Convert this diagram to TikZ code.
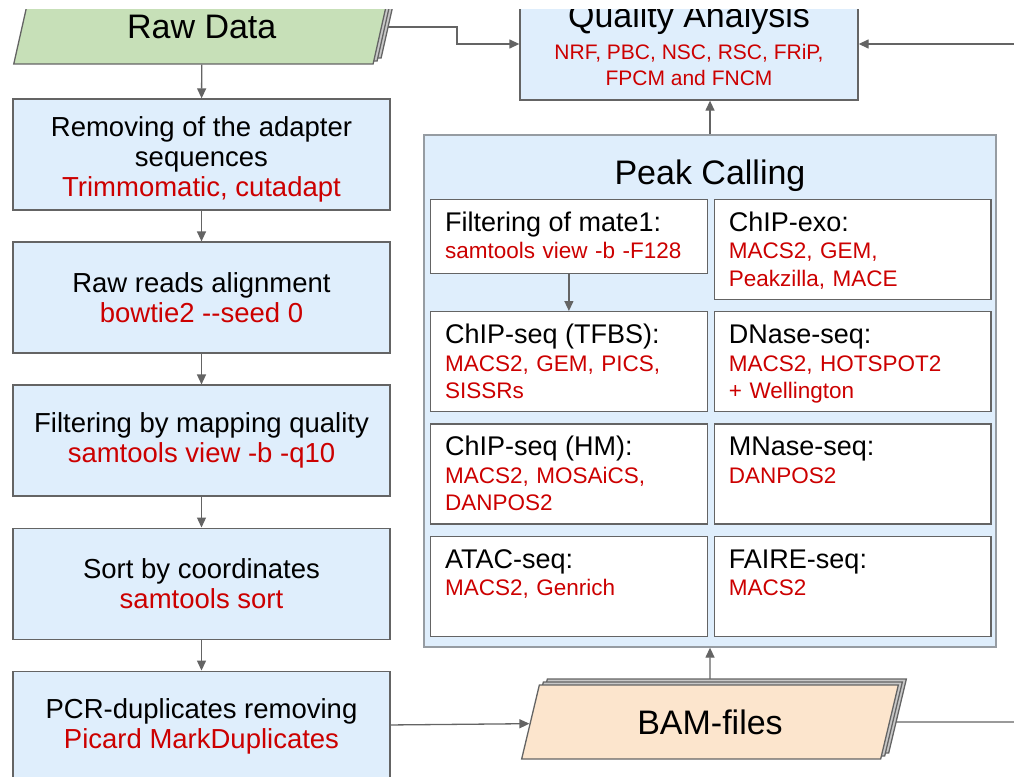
\documentclass[tikz,border=0pt]{standalone}
\usepackage{fontspec}
\setmainfont{Liberation Sans}
\usepackage{tikz}
\usetikzlibrary{arrows.meta,positioning,shapes.geometric,shadows,backgrounds}
\definecolor{linegray}{RGB}{100,100,100}
\definecolor{groupgray}{RGB}{150,156,162}
\definecolor{boxblue}{RGB}{223,238,252}
\definecolor{rawgreen}{RGB}{199,224,184}
\definecolor{bampeach}{RGB}{252,229,205}
\definecolor{toolred}{RGB}{204,0,0}
\definecolor{shadowgray}{RGB}{200,200,200}
\newcommand{\tool}[1]{\textcolor{toolred}{#1}}
\newcommand{\bigtitle}{\fontsize{34}{34}\selectfont}
\newcommand{\headfont}{\fontsize{27}{27.5}\selectfont}
\tikzset{
  stepbox/.style={rectangle, draw=linegray, line width=1.3pt, fill=boxblue,
                  minimum width=377pt, minimum height=111pt, align=center, inner sep=0pt,
                  font=\fontsize{27.5}{30}\selectfont},
  groupbox/.style={rectangle, draw=groupgray, line width=1.3pt, fill=boxblue, inner xsep=0pt},
  methodbox/.style={rectangle, draw=linegray, line width=1.3pt, fill=white,
                    text width=247.5pt, align=left, inner xsep=14.5pt, inner ysep=12.5pt,
                    text height=19.5pt, text depth=55.5pt, font=\fontsize{22.5}{27.5}\selectfont},
  datafile/.style={trapezium, trapezium left angle=76, trapezium right angle=104,
                   trapezium stretches=true, minimum width=377pt, minimum height=74pt,
                   draw=linegray, line width=1.3pt, font=\bigtitle,
                   copy shadow={shadow xshift=8pt, shadow yshift=6pt, fill=shadowgray, draw=linegray, line width=1.3pt},
                   copy shadow={shadow xshift=4pt, shadow yshift=3pt, fill=shadowgray, draw=linegray, line width=1.3pt}},
  arrow/.style={-{Triangle[length=10pt, width=9pt]}, line width=1.3pt, linegray},
  line/.style={line width=1.3pt, linegray},
}

\begin{document}
\begin{tikzpicture}[x=1pt, y=-1pt]
\useasboundingbox (0,0) rectangle (1014,776);
\clip (0,10) rectangle (1014,776);

% input and preprocessing column
\node[datafile, fill=rawgreen] (raw) at (201.75,27) {Raw Data};
\node[stepbox] (trim) at (201.5,154.5) {\rule{0pt}{29pt}Removing of the adapter\\ sequences\\ \tool{Trimmomatic, cutadapt}};
\node[stepbox, below=30.75pt of trim] (align) {Raw reads alignment\\ \tool{bowtie2 -{}-seed 0}};
\node[stepbox, below=30.75pt of align] (mapq) {Filtering by mapping quality\\ \tool{samtools view -b -q10}};
\node[stepbox, below=30.75pt of mapq] (sort) {Sort by coordinates\\ \tool{samtools sort}};
\node[stepbox, below=30.75pt of sort] (dedup) {PCR-duplicates removing\\ \tool{Picard MarkDuplicates}};
\node[datafile, fill=bampeach] (bam) at (710,722) {BAM-files};

% quality control
\node[stepbox, minimum width=338pt, minimum height=112pt, font=\fontsize{21}{26}\selectfont] (qa) at (689,44)
  {{\bigtitle Quality Analysis}\\[6pt] \tool{NRF, PBC, NSC, RSC, FRiP,}\\ \tool{FPCM and FNCM}};

% peak calling group
\node[groupbox, minimum width=572pt, font=\bigtitle, inner ysep=24.5pt,
      text height=24.5pt, text depth=438.5pt] (peak) at (710,391) {Peak Calling};
\node[methodbox, anchor=north west] (tfbs) at (430,311)
  {{\headfont ChIP-seq (TFBS):}\\ \tool{MACS2, GEM, PICS,}\\ \tool{SISSRs}};
\node[methodbox, below=11pt of tfbs] (hm)
  {{\headfont ChIP-seq (HM):}\\ \tool{MACS2, MOSAiCS,}\\ \tool{DANPOS2}};
\node[methodbox, below=11pt of hm] (atac)
  {{\headfont ATAC-seq:}\\ \tool{MACS2, Genrich}};
\node[methodbox, right=6pt of tfbs] (dnase)
  {{\headfont DNase-seq:}\\ \tool{MACS2, HOTSPOT2}\\ \tool{+ Wellington}};
\node[methodbox, right=6pt of hm] (mnase)
  {{\headfont MNase-seq:}\\ \tool{DANPOS2}};
\node[methodbox, right=6pt of atac] (faire)
  {{\headfont FAIRE-seq:}\\ \tool{MACS2}};
\node[methodbox, above=11pt of dnase] (exo)
  {{\headfont ChIP-exo:}\\ \tool{MACS2, GEM,}\\ \tool{Peakzilla, MACE}};
\node[methodbox, text depth=29.5pt, anchor=north west] (filt) at (tfbs.west |- exo.north)
  {{\headfont Filtering of mate1:}\\ \tool{samtools view -b -F128}};

\coordinate (qaright) at (1014,44);
\coordinate (bamright) at (1014,722);

% connectors
\foreach \a/\b in {raw/trim, trim/align, align/mapq, mapq/sort, sort/dedup, filt/tfbs, dedup/bam, qaright/qa}
  \draw[arrow] (\a) -- (\b);
\draw[arrow] (peak.north) -- (peak.north |- qa.south);
\begin{scope}[on background layer]
  \draw[arrow] (raw.east) -- ++(75,0) |- (qa.west);
  \draw[arrow] (bam) -- (peak);
  \draw[line] (bam) -- (bamright);
\end{scope}
\end{tikzpicture}
\end{document}
